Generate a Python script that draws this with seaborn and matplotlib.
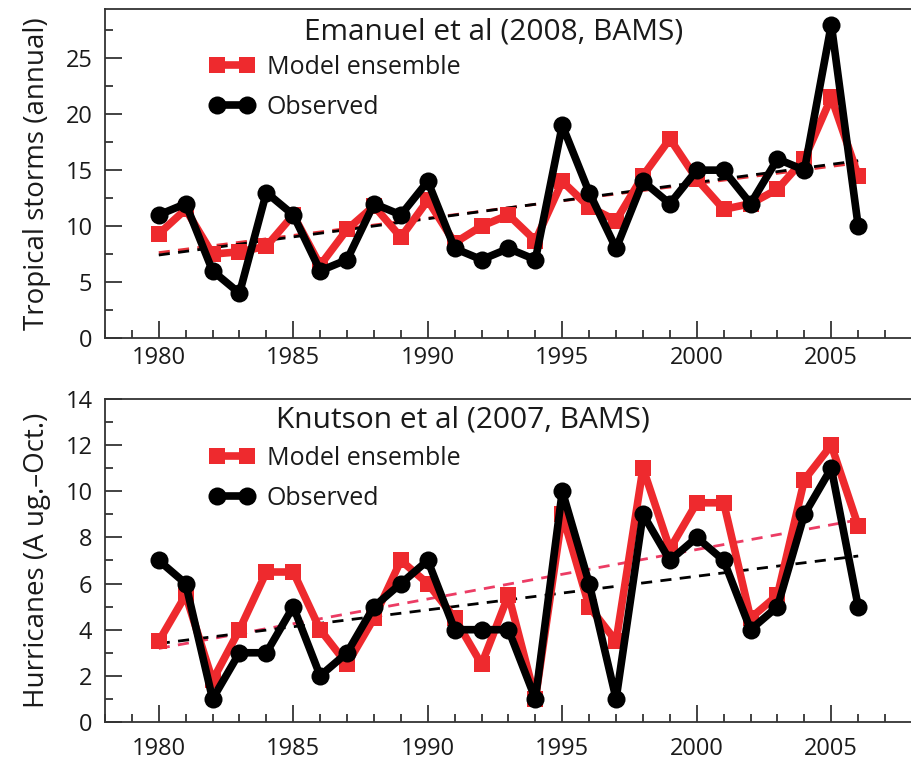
import numpy as np
import pandas as pd
import seaborn as sns
import matplotlib.pyplot as plt
from matplotlib.ticker import MultipleLocator

sns.set_theme(style="white")
plt.rcParams['font.family'] = ['Open Sans', 'DejaVu Sans']

years = list(range(1980, 2007))

# Emanuel et al (2008): annual tropical storm counts
storms_model = [9.3, 11.5, 7.5, 7.7, 8.2, 11.0, 6.5, 9.7, 11.8, 9.0, 12.3, 8.5, 10.0, 11.0,
                8.7, 14.0, 11.7, 10.5, 14.5, 17.8, 14.2, 11.5, 12.0, 13.3, 16.0, 21.5, 14.5]
storms_obs = [11, 12, 6, 4, 13, 11, 6, 7, 12, 11, 14, 8, 7, 8,
              7, 19, 13, 8, 14, 12, 15, 15, 12, 16, 15, 28, 10]

# Knutson et al (2007): Aug-Oct hurricane counts
hurr_model = [3.5, 5.5, 1.8, 4.0, 6.5, 6.5, 4.0, 2.5, 4.5, 7.0, 6.0, 4.5, 2.5, 5.5,
              1.0, 9.0, 5.0, 3.5, 11.0, 7.5, 9.5, 9.5, 4.5, 5.5, 10.5, 12.0, 8.5]
hurr_obs = [7, 6, 1, 3, 3, 5, 2, 3, 5, 6, 7, 4, 4, 4,
            1, 10, 6, 1, 9, 7, 8, 7, 4, 5, 9, 11, 5]

panels = [
    dict(title="Emanuel et al (2008, BAMS)", ylabel="Tropical storms (annual)",
         model=storms_model, obs=storms_obs, ylim=(0, 29.4), major=5, minor=2.5,
         red_trend="#e8323a", title_x=0.481, title_y=0.93, leg_y=0.89, xpad=6),
    dict(title="Knutson et al (2007, BAMS)", ylabel="Hurricanes (A ug.\u2013Oct.)",
         model=hurr_model, obs=hurr_obs, ylim=(0, 14), major=2, minor=1,
         red_trend="#ec3c64", title_x=0.444, title_y=0.935, leg_y=0.885, xpad=11),
]

RED = "#ee2a2e"
fig = plt.figure(figsize=(9.12, 7.64), dpi=100)
rects = [[0.1151, 0.5576, 0.8849, 0.4306], [0.1151, 0.0550, 0.8849, 0.4228]]

for rect, p in zip(rects, panels):
    ax = fig.add_axes(rect)
    df = pd.DataFrame({"year": years, "model": p["model"], "obs": p["obs"]})

    sns.regplot(data=df, x="year", y="model", scatter=False, ci=None, ax=ax,
                line_kws=dict(color=p["red_trend"], lw=2, ls=(0, (4, 3))))
    sns.regplot(data=df, x="year", y="obs", scatter=False, ci=None, ax=ax,
                line_kws=dict(color="black", lw=2, ls=(0, (4, 3))))

    sns.lineplot(data=df, x="year", y="model", ax=ax, color=RED, lw=5.5,
                 marker="s", markersize=11.5, markeredgewidth=0, markerfacecolor=RED,
                 label="Model ensemble")
    sns.lineplot(data=df, x="year", y="obs", ax=ax, color="black", lw=5.5,
                 marker="o", markersize=13, markeredgewidth=0, markerfacecolor="black",
                 label="Observed")

    ax.set_xlim(1978, 2008)
    ax.set_ylim(*p["ylim"])
    ax.xaxis.set_major_locator(MultipleLocator(5))
    ax.xaxis.set_minor_locator(MultipleLocator(1))
    ax.yaxis.set_major_locator(MultipleLocator(p["major"]))
    ax.yaxis.set_minor_locator(MultipleLocator(p["minor"]))
    ax.tick_params(which="both", direction="in", colors="#222222", width=1.2,
                   labelsize=17, labelcolor="#1a1a1a")
    ax.tick_params(which="major", length=12)
    ax.tick_params(which="minor", length=6)
    ax.tick_params(axis="x", which="both", bottom=True, top=False, pad=p["xpad"])
    ax.tick_params(axis="y", which="both", left=True, right=False, pad=9)

    for side in ["left", "bottom", "top"]:
        ax.spines[side].set_visible(True)
        ax.spines[side].set_color("#333333")
        ax.spines[side].set_linewidth(1.3)
    ax.spines["right"].set_visible(False)

    ax.set_xlabel("")
    ax.set_ylabel(p["ylabel"], fontsize=20, color="#1a1a1a", labelpad=10)
    ax.text(p["title_x"], p["title_y"], p["title"], transform=ax.transAxes, ha="center",
            va="center", fontsize=21.5, color="#1a1a1a")

    leg = ax.legend(loc="upper left", bbox_to_anchor=(0.117, p["leg_y"]), frameon=False,
                    numpoints=2, handlelength=1.8, fontsize=18, labelspacing=0.6,
                    handletextpad=0.5, borderaxespad=0)
    for t in leg.get_texts():
        t.set_color("#1a1a1a")

fig.savefig("out.png", dpi=100, facecolor="white")
